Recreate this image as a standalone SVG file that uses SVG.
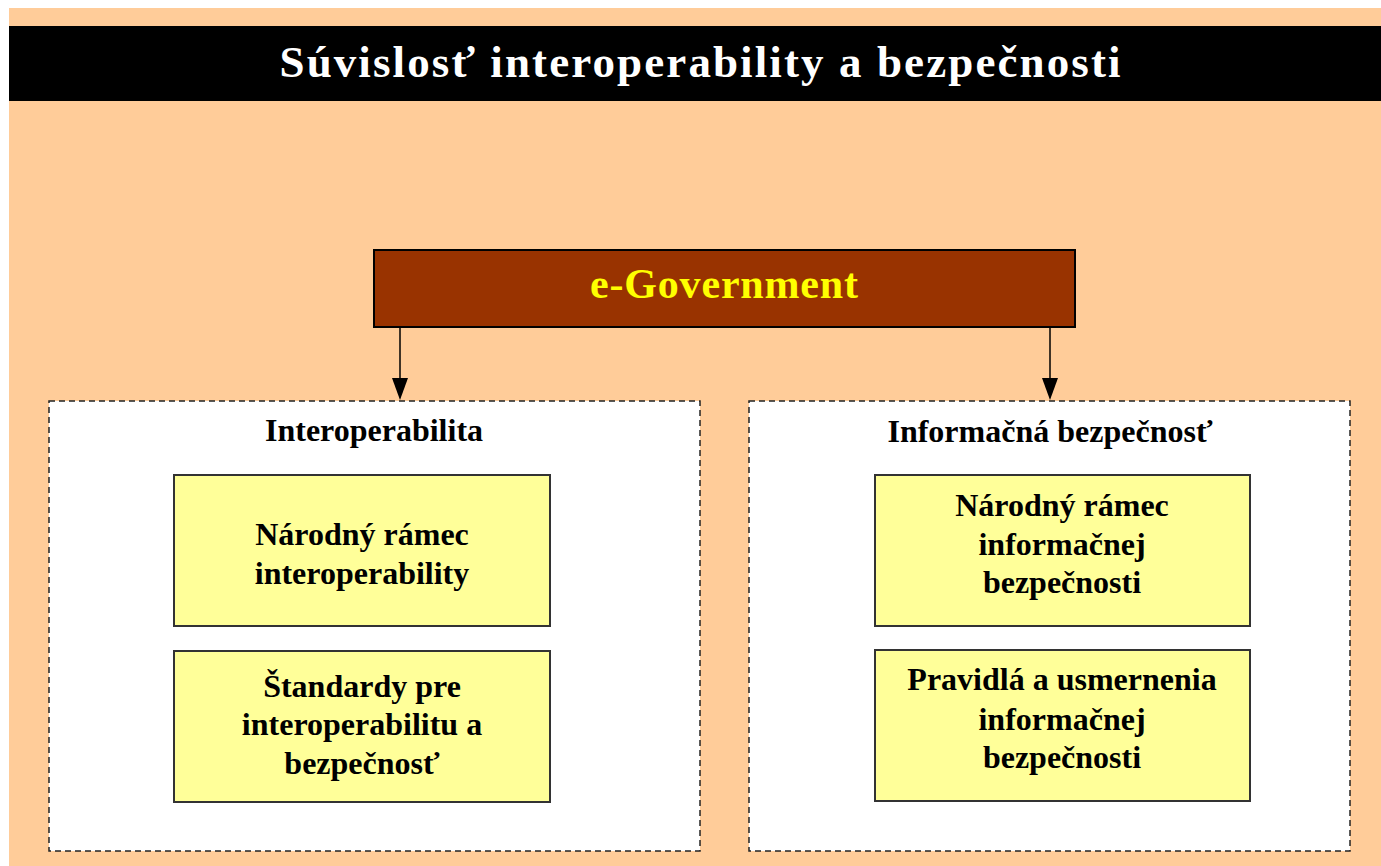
<svg xmlns="http://www.w3.org/2000/svg" width="1381" height="866" viewBox="0 0 1381 866">
<defs>
<style>
.t{font-family:"Liberation Serif","Times New Roman",serif;font-weight:bold;text-anchor:middle}
.lbl{font-size:32px;fill:#000}
.grp{fill:#fff;stroke:#222;stroke-width:1.5;stroke-dasharray:6 4}
.ybox{fill:#FFFF99;stroke:#333;stroke-width:2}
.conn{stroke:#000;stroke-width:1.5;fill:none}
</style>
</defs>
<rect x="0" y="0" width="1381" height="866" fill="#fff"/>
<rect x="9" y="8" width="1372" height="858" fill="#FFCC99"/>
<g id="title">
<rect x="9" y="26" width="1372" height="75" fill="#000"/>
<text class="t" x="700" y="77" font-size="45" fill="#fff" textLength="841" lengthAdjust="spacing">Súvislosť interoperability a bezpečnosti</text>
</g>
<g id="egov">
<rect x="374" y="250" width="701" height="77" fill="#993300" stroke="#000" stroke-width="2"/>
<text class="t" x="724" y="298" font-size="42" fill="#FFFF00" textLength="268" lengthAdjust="spacing">e-Government</text>
</g>
<g id="connectors">
<line class="conn" x1="400" y1="327" x2="400" y2="380"/>
<path d="M392,378 L408,378 L400,400 Z" fill="#000"/>
<line class="conn" x1="1050" y1="327" x2="1050" y2="380"/>
<path d="M1042,378 L1058,378 L1050,400 Z" fill="#000"/>
</g>
<g id="interop">
<rect class="grp" x="49" y="401" width="651" height="450"/>
<text class="t lbl" x="374" y="441">Interoperabilita</text>
</g>
<g id="infosec">
<rect class="grp" x="749" y="401" width="601" height="450"/>
<text class="t lbl" x="1050" y="442">Informačná bezpečnosť</text>
</g>
<g id="nri">
<rect class="ybox" x="174" y="475" width="376" height="151"/>
<text class="t lbl" x="362" y="545">Národný rámec</text>
<text class="t lbl" x="362" y="584">interoperability</text>
</g>
<g id="standardy">
<rect class="ybox" x="174" y="651" width="376" height="151"/>
<text class="t lbl" x="362" y="697">Štandardy pre</text>
<text class="t lbl" x="362" y="735">interoperabilitu a</text>
<text class="t lbl" x="362" y="774">bezpečnosť</text>
</g>
<g id="nrib">
<rect class="ybox" x="875" y="475" width="375" height="151"/>
<text class="t lbl" x="1062" y="516">Národný rámec</text>
<text class="t lbl" x="1062" y="555">informačnej</text>
<text class="t lbl" x="1062" y="593">bezpečnosti</text>
</g>
<g id="pravidla">
<rect class="ybox" x="875" y="650" width="375" height="151"/>
<text class="t lbl" x="1062" y="690">Pravidlá a usmernenia</text>
<text class="t lbl" x="1062" y="730">informačnej</text>
<text class="t lbl" x="1062" y="768">bezpečnosti</text>
</g>
</svg>
